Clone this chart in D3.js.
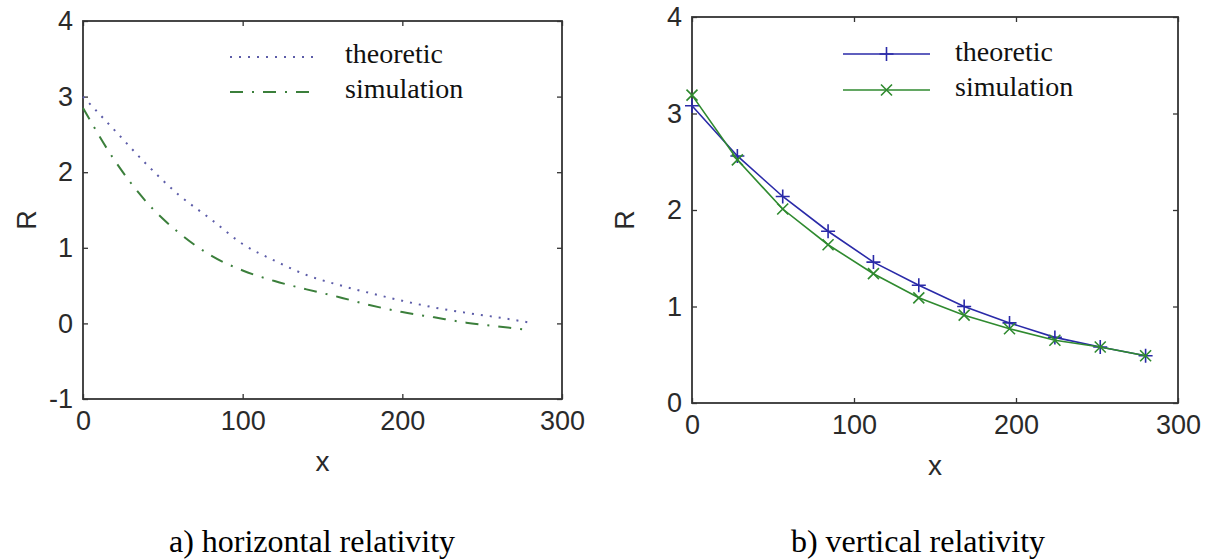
<!DOCTYPE html>
<html>
<head>
<meta charset="utf-8">
<script src="https://cdn.jsdelivr.net/npm/d3@7"></script>
<style>
    body { margin: 0; background: #fff; }
    svg { display: block; }
</style>
</head>
<body>
<div id="chart"></div>
<script>
// a) horizontal relativity
let leftX = [0, 20, 40, 60, 80, 100, 120, 140, 160, 180, 200, 220, 240, 260, 280]
let leftTheoretic = [3.00, 2.55, 2.10, 1.70, 1.38, 1.05, 0.83, 0.64, 0.51, 0.40, 0.30, 0.21, 0.14, 0.08, 0.01]
let leftSimulation = [2.85, 2.15, 1.60, 1.20, 0.90, 0.70, 0.56, 0.45, 0.35, 0.24, 0.15, 0.08, 0.01, -0.04, -0.09]

// b) vertical relativity
let rightX = [0, 28, 56, 84, 112, 140, 168, 196, 224, 252, 280]
let rightTheoretic = [3.08, 2.56, 2.14, 1.78, 1.46, 1.22, 1.00, 0.83, 0.68, 0.58, 0.49]
let rightSimulation = [3.19, 2.52, 2.01, 1.64, 1.34, 1.09, 0.91, 0.77, 0.65, 0.58, 0.49]

let xTicks = [0, 100, 200, 300]
let leftYTicks = [-1, 0, 1, 2, 3, 4]
let rightYTicks = [0, 1, 2, 3, 4]
let seriesNames = ['theoretic', 'simulation']
let captions = ['a) horizontal relativity', 'b) vertical relativity']

const zip = (xs, ys) => xs.map((x, i) => ({x: x, y: ys[i]}))
const plainNum = d => String(d)

const markerPaths = {
    plus: 'M-7,0H7M0,-7V7',
    cross: 'M-5.5,-5.5L5.5,5.5M-5.5,5.5L5.5,-5.5'
}

class RelativityPanel {
    constructor(opts) {
        this.svg = opts.svg;
        this.left = opts.left;
        this.top = opts.top;
        this.width = opts.width;
        this.height = opts.height;
        this.xDomain = opts.xDomain;
        this.yDomain = opts.yDomain;
        this.yTicks = opts.yTicks;
        this.series = opts.series;
        this.curve = opts.curve || d3.curveLinear;
        this.legend = opts.legend;
        this.caption = opts.caption;
        this.rLabelX = opts.rLabelX;

        this.draw();
    }

    draw() {
        this.plot = this.svg.append('g')
            .attr('transform', `translate(${this.left},${this.top})`)

        this.createScales();
        this.addAxes();
        this.addLines();
        this.addLegend();
        this.addLabels();
    }

    createScales() {
        this.xScale = d3.scaleLinear()
            .domain(this.xDomain)
            .range([0, this.width])

        this.yScale = d3.scaleLinear()
            .domain(this.yDomain)
            .range([this.height, 0])
    }

    addAxes() {
        const styleAxis = g => {
            g.select('.domain').remove()
            g.selectAll('.tick line').attr('stroke', '#333').attr('stroke-width', 1.3)
            g.selectAll('.tick text')
                .attr('fill', '#2a2a2a')
                .style('font-family', '"Liberation Sans", Arial, sans-serif')
                .style('font-size', '27px')
        }

        this.plot.append('g')
            .attr('transform', `translate(0,${this.height})`)
            .call(d3.axisBottom(this.xScale).tickValues(xTicks).tickFormat(plainNum).tickSize(-5).tickPadding(12).tickSizeOuter(0))
            .call(styleAxis)

        this.plot.append('g')
            .call(d3.axisTop(this.xScale).tickValues(xTicks).tickSize(-5).tickFormat('').tickSizeOuter(0))
            .call(styleAxis)

        this.plot.append('g')
            .call(d3.axisLeft(this.yScale).tickValues(this.yTicks).tickFormat(plainNum).tickSize(-5).tickPadding(10).tickSizeOuter(0))
            .call(styleAxis)

        this.plot.append('g')
            .attr('transform', `translate(${this.width},0)`)
            .call(d3.axisRight(this.yScale).tickValues(this.yTicks).tickSize(-5).tickFormat('').tickSizeOuter(0))
            .call(styleAxis)

        this.plot.append('rect')
            .attr('width', this.width)
            .attr('height', this.height)
            .attr('fill', 'none')
            .attr('stroke', '#333')
            .attr('stroke-width', 1.8)
    }

    addLines() {
        let line = d3.line()
            .x(d => this.xScale(d.x))
            .y(d => this.yScale(d.y))
            .curve(this.curve)

        this.series.forEach(s => {
            this.plot.append('path')
                .datum(s.data)
                .attr('fill', 'none')
                .attr('stroke', s.color)
                .attr('stroke-width', s.width)
                .attr('stroke-dasharray', s.dash)
                .attr('d', line)

            if (s.marker) {
                this.plot.selectAll(null)
                    .data(s.data)
                    .enter().append('path')
                    .attr('transform', d => `translate(${this.xScale(d.x)},${this.yScale(d.y)})`)
                    .attr('d', markerPaths[s.marker])
                    .attr('fill', 'none')
                    .attr('stroke', s.color)
                    .attr('stroke-width', 1.6)
            }
        })
    }

    addLegend() {
        let lg = this.legend;
        this.series.forEach((s, i) => {
            let y = lg.lineY[i];
            this.svg.append('line')
                .attr('x1', lg.x1)
                .attr('x2', lg.x2[i])
                .attr('y1', y)
                .attr('y2', y)
                .attr('stroke', s.color)
                .attr('stroke-width', s.width)
                .attr('stroke-dasharray', s.dash)

            if (s.marker) {
                this.svg.append('path')
                    .attr('transform', `translate(${(lg.x1 + lg.x2[i]) / 2},${y})`)
                    .attr('d', markerPaths[s.marker])
                    .attr('fill', 'none')
                    .attr('stroke', s.color)
                    .attr('stroke-width', 1.6)
            }

            this.svg.append('text')
                .attr('x', lg.textX)
                .attr('y', lg.textY[i])
                .style('font-family', '"Liberation Serif", "Times New Roman", serif')
                .style('font-size', '28px')
                .attr('fill', '#111')
                .text(seriesNames[i])
        })
    }

    addLabels() {
        this.svg.append('text')
            .attr('x', this.left + this.width / 2)
            .attr('y', this.top + this.height + 72)
            .attr('text-anchor', 'middle')
            .style('font-family', '"Liberation Sans", Arial, sans-serif')
            .style('font-size', '28px')
            .attr('fill', '#2a2a2a')
            .text('x')

        this.svg.append('text')
            .attr('transform', `translate(${this.rLabelX},${this.top + this.height / 2 + 10}) rotate(-90)`)
            .attr('text-anchor', 'middle')
            .style('font-family', '"Liberation Sans", Arial, sans-serif')
            .style('font-size', '27px')
            .attr('fill', '#2a2a2a')
            .text('R')

        this.svg.append('text')
            .attr('x', this.caption.x)
            .attr('y', 552)
            .attr('text-anchor', 'middle')
            .style('font-family', '"Liberation Serif", "Times New Roman", serif')
            .style('font-size', '32px')
            .attr('fill', '#000')
            .text(this.caption.text)
    }
}

const svg = d3.select('#chart').append('svg')
    .attr('width', 1209)
    .attr('height', 560)

new RelativityPanel({
    svg: svg,
    left: 83, top: 21, width: 479, height: 378,
    xDomain: [0, 300],
    yDomain: [-1, 4],
    yTicks: leftYTicks,
    curve: d3.curveMonotoneX,
    rLabelX: 36,
    series: [
        {data: zip(leftX, leftTheoretic), color: '#5c5ca8', width: 2, dash: '2,7'},
        {data: zip(leftX, leftSimulation), color: '#3b7f3b', width: 2, dash: '13,9,2,9'}
    ],
    legend: {x1: 230, x2: [313, 318], lineY: [57, 92], textX: 345, textY: [63, 98]},
    caption: {x: 312, text: captions[0]}
})

new RelativityPanel({
    svg: svg,
    left: 692, top: 17, width: 486, height: 386,
    xDomain: [0, 300],
    yDomain: [0, 4],
    yTicks: rightYTicks,
    rLabelX: 634,
    series: [
        {data: zip(rightX, rightTheoretic), color: '#2a2aa8', width: 1.6, marker: 'plus'},
        {data: zip(rightX, rightSimulation), color: '#2f8a2f', width: 1.6, marker: 'cross'}
    ],
    legend: {x1: 843, x2: [930, 930], lineY: [54, 90], textX: 955, textY: [61, 96]},
    caption: {x: 918, text: captions[1]}
})
</script>
</body>
</html>
